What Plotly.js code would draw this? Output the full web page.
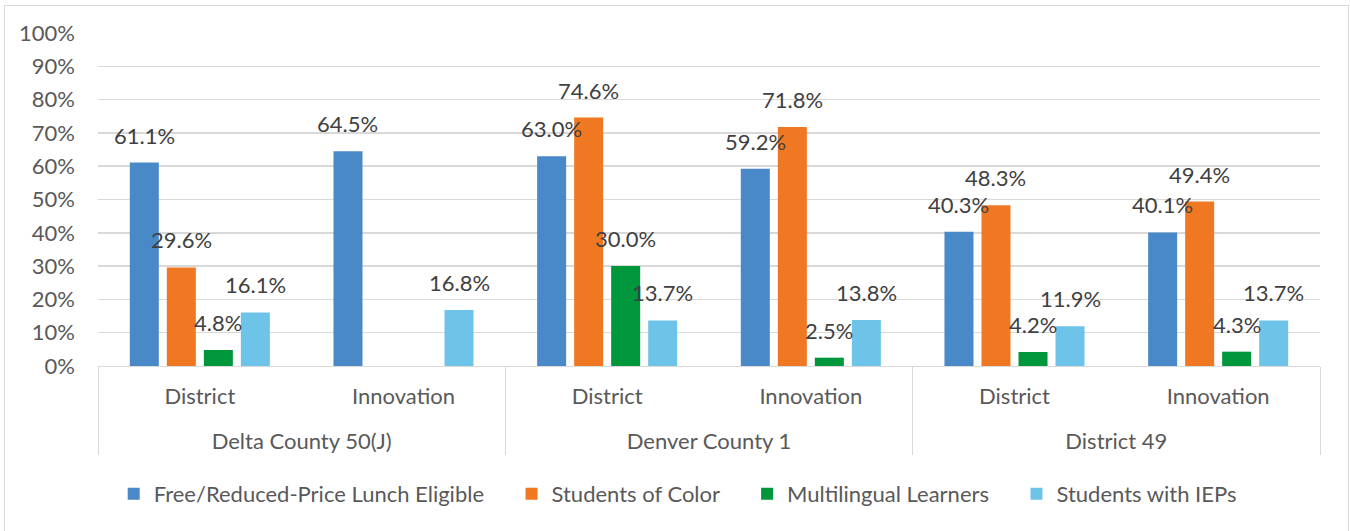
<!DOCTYPE html>
<html><head><meta charset="utf-8">
<script src="https://cdn.plot.ly/plotly-3.0.1.min.js"></script>
<style>
html,body{margin:0;padding:0;background:#fff}
#wrap{position:relative;width:1350px;height:531px;overflow:hidden}
#chart{width:1350px;height:531px}
#frame{position:absolute;left:4px;top:5px;width:1343px;height:560px;border:1px solid #d9d9d9;pointer-events:none}
</style>
</head><body>
<div id="wrap"><div id="chart"></div><div id="frame"></div></div>
<script>
// ---- data ----
const districts = ['Delta County 50(J)','Delta County 50(J)','Denver County 1','Denver County 1','District 49','District 49'];
const schoolTypes = ['District','Innovation','District','Innovation','District','Innovation'];
const seriesNames = ['Free/Reduced-Price Lunch Eligible','Students of Color','Multilingual Learners','Students with IEPs'];
const freeReducedLunch = [0.611, 0.645, 0.630, 0.592, 0.403, 0.401];
const studentsOfColor = [0.296, null, 0.746, 0.718, 0.483, 0.494];
const multilingualLearners = [0.048, null, 0.300, 0.025, 0.042, 0.043];
const studentsWithIEPs = [0.161, 0.168, 0.137, 0.138, 0.119, 0.137];
const yTickVals = [0,0.1,0.2,0.3,0.4,0.5,0.6,0.7,0.8,0.9,1.0];

// ---- style ----
const colors = ['#4A89C8','#F07822','#00963C','#6EC3E8'];
const FONT = 'Lato, "Open Sans", sans-serif';
const FS = 22;
const BARGAP = 0.273;
const series = [freeReducedLunch, studentsOfColor, multilingualLearners, studentsWithIEPs];

// spacing helpers (styling only)
const pad = '<span style="font-size:45px">\u00A0</span>';
const subLabels = schoolTypes.map(s => pad + s + pad);
const legendNames = seriesNames.map((n, j) => j < seriesNames.length - 1 ? n + '\u00A0\u00A0\u00A0\u00A0' : n);

const traces = series.map((vals, j) => ({
  type: 'bar',
  name: legendNames[j],
  x: [districts, subLabels],
  y: vals,
  marker: {color: colors[j]},
  hoverinfo: 'skip'
}));

// data labels placed through the axis scales
const annotations = [];
series.forEach((vals, j) => {
  vals.forEach((v, i) => {
    if (v === null) return;
    annotations.push({
      xref: 'x', yref: 'y',
      x: i + (j - 1.5) * (1 - BARGAP) / 4,
      y: v,
      text: (v * 100).toFixed(1) + '%',
      showarrow: false,
      xanchor: 'center', yanchor: 'bottom',
      yshift: 12,
      font: {family: FONT, size: FS, color: '#404040'}
    });
  });
});

const layout = {
  width: 1350, height: 531,
  margin: {l: 98, r: 30, t: 33, b: 165},
  paper_bgcolor: '#ffffff', plot_bgcolor: '#ffffff',
  font: {family: FONT, size: FS, color: '#595959'},
  barmode: 'group',
  bargap: BARGAP,
  bargroupgap: 0.216,
  showlegend: true,
  legend: {
    orientation: 'h',
    xref: 'container', yref: 'container',
    x: 0.502, xanchor: 'center',
    y: 0.07, yanchor: 'middle',
    font: {family: FONT, size: FS, color: '#595959'},
    traceorder: 'normal'
  },
  xaxis: {
    type: 'multicategory',
    showline: true, linecolor: '#d9d9d9', linewidth: 1,
    showdividers: true, dividercolor: '#d9d9d9', dividerwidth: 1,
    ticks: '',
    ticklabelstandoff: 11,
    showgrid: false,
    tickfont: {family: FONT, size: FS, color: '#595959'},
    fixedrange: true
  },
  yaxis: {
    range: [0, 1],
    tickvals: yTickVals,
    tickformat: '.0%',
    showgrid: true, gridcolor: '#d9d9d9', gridwidth: 1.5,
    zeroline: false, showline: false, ticks: '',
    ticklabelstandoff: 22,
    tickfont: {family: FONT, size: FS, color: '#595959'},
    fixedrange: true
  },
  annotations: annotations
};

Plotly.newPlot('chart', traces, layout, {displayModeBar: false, staticPlot: true});
</script>
</body></html>
